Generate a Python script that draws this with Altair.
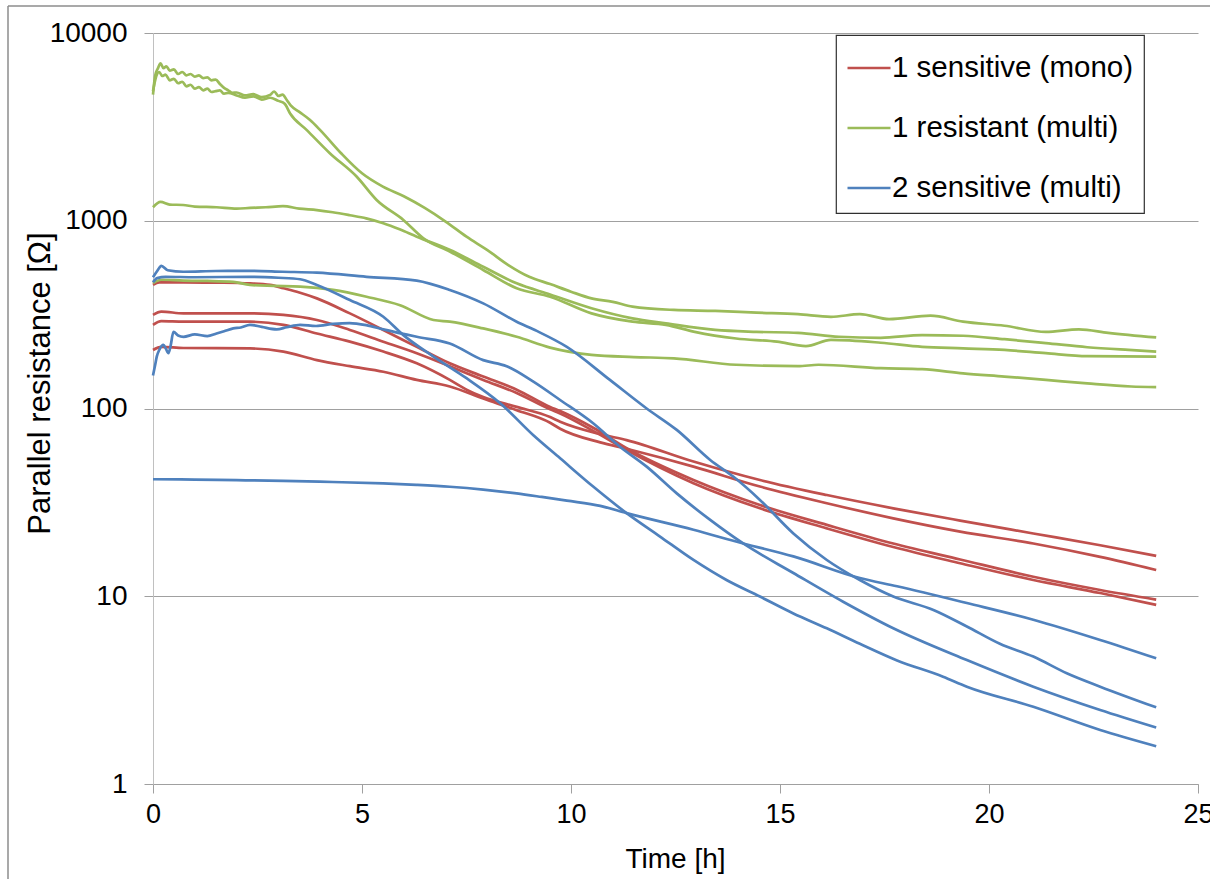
import altair as alt
import pandas as pd

SERIES = ["1 sensitive (mono)", "1 resistant (multi)", "2 sensitive (multi)"]
COLORS = ["#C0504D", "#9BBB59", "#4F81BD"]

# ---- 1 sensitive (mono): red curves ----
T_R1 = [0, 0.15, 0.73, 1.5, 2.32, 2.8, 3.12, 3.5, 3.92, 4.71, 5.51, 6.31, 7.1, 7.9, 8.7, 9.5, 9.74, 10.53, 11.33, 12.93, 14.52, 16.12, 17.71, 19.31, 21.06, 22.66, 24.0]
V_R1 = [455, 470, 470, 468, 464, 455, 437, 415, 386, 321, 262, 213, 174, 148, 126, 102, 97, 79, 61.4, 41.6, 30.6, 24.0, 19.1, 15.7, 12.7, 10.8, 9.6]
T_R2 = [0, 0.2, 0.73, 2.32, 3.12, 3.92, 4.71, 5.51, 6.31, 7.1, 7.9, 8.7, 9.5, 9.74, 10.53, 11.33, 12.93, 14.52, 16.12, 17.71, 19.31, 21.06, 22.66, 24.0]
V_R2 = [315, 328, 321, 321, 315, 296, 262, 227, 197, 168, 142, 121, 99, 94, 76, 60.1, 40.0, 29.4, 23.0, 18.3, 15.0, 12.2, 10.4, 9.0]
T_R3 = [0, 0.2, 0.73, 2.32, 3.12, 3.92, 4.71, 5.51, 6.31, 7.1, 7.5, 7.9, 8.7, 9.5, 9.74, 10.7, 11.33, 12.93, 14.52, 16.12, 17.71, 19.31, 21.06, 22.66, 24.0]
V_R3 = [279, 292, 290, 290, 279, 251, 227, 201, 174, 142, 126, 115, 102, 90, 85, 73, 67.9, 52.2, 41.6, 34.6, 29.4, 25.3, 21.6, 18.7, 16.4]
T_R4 = [0, 0.2, 0.73, 2.32, 3.12, 3.92, 4.71, 5.51, 6.31, 7.1, 7.9, 8.7, 9.5, 9.74, 10.7, 11.33, 12.93, 14.52, 16.12, 17.71, 19.31, 21.06, 22.66, 24.0]
V_R4 = [205, 213, 210, 209, 201, 181, 168, 157, 142, 131, 113, 98, 84, 78, 66, 61, 49, 38.4, 31.3, 26.0, 22.1, 19.1, 16.2, 13.8]

# ---- 1 resistant (multi): green curves ----
T_G1 = [0, 0.05, 0.12, 0.18, 0.25, 0.32, 0.4, 0.5, 0.6, 0.7, 0.8, 0.9, 1.0, 1.1, 1.2, 1.3, 1.4, 1.5, 1.6, 1.7, 1.8, 1.9, 2.0, 2.2, 2.4, 2.6, 2.8, 2.9, 3.0, 3.1, 3.2, 3.3, 3.5, 3.75, 4.0, 4.5, 5.0, 5.5, 6.0, 6.5, 7.0, 7.5, 8.0, 8.5, 9.0, 9.5, 10.0, 10.49, 11.0, 11.47, 12.46, 13.45, 14.44, 15.43, 16.22, 16.91, 17.61, 18.6, 19.38, 20.37, 21.36, 22.15, 22.85, 24.0]
V_G1 = [4700, 5900, 6500, 6900, 6500, 6650, 6300, 6400, 6050, 6200, 5950, 6050, 5850, 5950, 5750, 5800, 5600, 5650, 5350, 5100, 4950, 4800, 4820, 4650, 4720, 4550, 4680, 4880, 4620, 4700, 4400, 4100, 3800, 3450, 3040, 2290, 1790, 1520, 1350, 1170, 990, 822, 698, 581, 503, 460, 419, 386, 370, 349, 335, 331, 324, 318, 308, 318, 299, 312, 290, 276, 256, 264, 253, 239]
T_G2 = [0, 0.06, 0.15, 0.22, 0.3, 0.4, 0.5, 0.6, 0.7, 0.8, 0.9, 1.0, 1.1, 1.2, 1.3, 1.4, 1.5, 1.6, 1.7, 1.8, 2.0, 2.2, 2.4, 2.6, 2.8, 3.0, 3.15, 3.28, 3.68, 4.23, 4.87, 5.35, 5.99, 6.47, 7.11, 7.9, 8.7, 9.5, 10.49, 11.47, 12.27, 12.96, 13.95, 14.93, 15.62, 16.22, 17.41, 18.4, 19.38, 20.37, 21.36, 22.35, 24.0]
V_G2 = [4900, 5700, 6200, 5900, 6000, 5600, 5700, 5400, 5500, 5200, 5300, 5050, 5150, 4950, 5050, 4850, 4900, 4950, 4750, 4800, 4650, 4520, 4600, 4420, 4520, 4350, 4200, 3730, 3040, 2290, 1720, 1290, 1010, 806, 684, 547, 437, 394, 321, 290, 279, 256, 236, 227, 215, 232, 224, 213, 209, 205, 197, 190, 189]
T_G3 = [0, 0.18, 0.4, 0.72, 1.0, 1.52, 2.0, 2.32, 2.7, 3.11, 3.5, 3.92, 4.3, 4.71, 5.1, 5.51, 5.9, 6.31, 7.11, 7.9, 8.7, 9.5, 10.49, 11.47, 12.27, 13.45, 14.44, 15.43, 16.41, 17.41, 18.4, 19.38, 20.37, 21.36, 22.35, 23.34, 24.0]
V_G3 = [1180, 1260, 1220, 1213, 1190, 1180, 1160, 1170, 1180, 1195, 1160, 1140, 1110, 1070, 1030, 970, 900, 822, 698, 569, 464, 405, 342, 302, 284, 262, 256, 253, 241, 238, 246, 244, 234, 223, 212, 205, 201]
T_G4 = [0, 0.2, 0.73, 1.3, 1.92, 2.32, 2.9, 3.52, 4.31, 5.11, 5.91, 6.71, 7.1, 7.9, 8.7, 9.5, 10.49, 11.5, 12.46, 13.95, 15.43, 15.92, 17.41, 18.4, 19.38, 20.37, 21.36, 22.35, 23.4, 24.0]
V_G4 = [465, 485, 480, 478, 473, 455, 450, 446, 428, 394, 355, 296, 290, 267, 241, 211, 193, 188, 185, 171, 168, 171, 164, 162, 154, 148, 142, 136, 131, 130]

# ---- 2 sensitive (multi): blue curves ----
T_B1 = [0, 0.1, 0.2, 0.35, 0.73, 1.5, 2.32, 3.1, 3.92, 5.11, 6.31, 7.1, 7.9, 8.7, 9.18, 9.9, 10.93, 11.81, 12.53, 13.33, 13.88, 14.52, 15.32, 16.12, 16.91, 17.71, 18.67, 19.47, 20.26, 21.06, 21.86, 22.66, 24.0]
V_B1 = [500, 540, 575, 545, 535, 540, 541, 535, 529, 503, 480, 428, 363, 290, 259, 213, 142, 100, 76.9, 53.2, 43.4, 32.6, 21.6, 15.6, 12.2, 9.96, 8.45, 6.9, 5.58, 4.77, 3.89, 3.3, 2.56]
T_B2 = [0, 0.1, 0.3, 1.0, 2.32, 3.0, 3.52, 3.92, 4.71, 5.51, 5.99, 6.71, 7.5, 8.3, 9.1, 9.74, 10.53, 11.33, 12.13, 12.93, 13.72, 14.52, 15.32, 16.12, 16.91, 17.8, 18.9, 19.47, 21.06, 22.66, 24.0]
V_B2 = [470, 495, 503, 500, 503, 497, 488, 455, 378, 308, 246, 189, 145, 107, 72, 54.3, 38.4, 27.7, 20.8, 15.6, 12.2, 9.96, 8.1, 6.75, 5.58, 4.55, 3.73, 3.3, 2.58, 1.94, 1.59]
T_B3 = [0, 0.05, 0.09, 0.15, 0.25, 0.3, 0.37, 0.42, 0.49, 0.6, 0.73, 1.0, 1.3, 1.52, 1.7, 1.92, 2.1, 2.32, 2.6, 2.96, 3.2, 3.52, 3.9, 4.31, 4.7, 5.1, 5.51, 6.31, 7.1, 7.9, 8.46, 9.1, 9.74, 10.53, 11.17, 11.81, 12.53, 13.33, 14.12, 15.32, 16.51, 17.71, 19.47, 21.06, 22.66, 24.0]
V_B3 = [150, 170, 189, 205, 218, 210, 197, 215, 256, 245, 241, 248, 243, 251, 258, 267, 270, 279, 272, 264, 271, 279, 275, 282, 285, 278, 264, 241, 222, 181, 168, 139, 111, 83.4, 62.6, 49, 35.3, 25.5, 19.1, 13.3, 9.35, 6.75, 4.57, 3.3, 2.48, 2.0]
T_B4 = [0, 1.0, 2.0, 3.12, 4.3, 5.51, 6.3, 7.1, 7.9, 8.7, 9.3, 9.9, 10.7, 11.33, 12.93, 14.12, 15.32, 16.91, 17.8, 19.47, 21.06, 22.66, 24.0]
V_B4 = [42.0, 41.8, 41.5, 41.2, 40.6, 39.9, 39.2, 38.3, 37.0, 35.3, 33.8, 32.3, 30.3, 27.7, 22.6, 19.1, 16.3, 12.5, 11.3, 9.2, 7.5, 5.85, 4.67]

X_TICKS = [0, 5, 10, 15, 20, 25]
Y_TICKS = [1, 10, 100, 1000, 10000]

CURVES = [
    (SERIES[0], "R1", T_R1, V_R1), (SERIES[0], "R2", T_R2, V_R2),
    (SERIES[0], "R3", T_R3, V_R3), (SERIES[0], "R4", T_R4, V_R4),
    (SERIES[1], "G1", T_G1, V_G1), (SERIES[1], "G2", T_G2, V_G2),
    (SERIES[1], "G3", T_G3, V_G3), (SERIES[1], "G4", T_G4, V_G4),
    (SERIES[2], "B1", T_B1, V_B1), (SERIES[2], "B2", T_B2, V_B2),
    (SERIES[2], "B3", T_B3, V_B3), (SERIES[2], "B4", T_B4, V_B4),
]

rows = []
for s, cid, ts, vs in CURVES:
    for t, v in zip(ts, vs):
        rows.append({"series": s, "curve": cid, "t": t, "r": v})
df = pd.DataFrame(rows)

FONT = "Liberation Sans"
GRID = "#a0a0a0"

x_enc = alt.X("t:Q", scale=alt.Scale(domain=[0, 25], nice=False, zero=False),
              axis=alt.Axis(values=X_TICKS, grid=False, domainColor=GRID, tickColor=GRID,
                            tickSize=9, labelFontSize=27, labelFont=FONT, labelColor="black",
                            labelPadding=8, labelFlush=False, title="Time [h]",
                            titleFont=FONT, titleFontSize=28, titleFontWeight="normal",
                            titleColor="black", titleX=522, titleY=75, titleBaseline="middle"))
y_enc = alt.Y("r:Q", scale=alt.Scale(type="log", domain=[1, 10000], nice=False),
              axis=alt.Axis(values=Y_TICKS, format="d", grid=True, gridColor=GRID,
                            domainColor="#c0c0c0", tickColor=GRID, tickSize=9,
                            labelFontSize=28, labelFont=FONT, labelColor="black",
                            labelPadding=17, title="Parallel resistance [Ω]",
                            titleFont=FONT, titleFontSize=31, titleFontWeight="normal",
                            titleColor="black", titleX=-113, titleY=350,
                            titleBaseline="middle", titleAlign="center", titleAngle=270))
color_enc = alt.Color("series:N", scale=alt.Scale(domain=SERIES, range=COLORS),
                      legend=alt.Legend(orient="none", legendX=683, legendY=2, title=None,
                                        symbolType="stroke", symbolSize=1849,
                                        symbolStrokeWidth=2.7, labelFontSize=29.5,
                                        labelFont=FONT, labelColor="black", labelLimit=0,
                                        labelOffset=0, rowPadding=22, padding=10,
                                        strokeColor="#303030", fillColor="white"))

base = alt.Chart(df).mark_line(strokeWidth=2.7, interpolate="monotone").encode(
    x=x_enc, y=y_enc, color=color_enc, detail="curve:N")

layers = [base.transform_filter(alt.datum.series == s) for s in SERIES]

frame = alt.Chart(pd.DataFrame({"k": [0]}))
left_border = frame.mark_rule(color="#8c8c8c", strokeWidth=1.5).encode(
    x=alt.value(-145), y=alt.value(-27), y2=alt.value(900))
top_border = frame.mark_rule(color="#8c8c8c", strokeWidth=1.5).encode(
    y=alt.value(-27), x=alt.value(-145), x2=alt.value(1100))

chart = alt.layer(*layers, left_border, top_border).properties(
    width=1045, height=751,
    autosize=alt.AutoSizeParams(type="none"),
    padding={"left": 153, "top": 33, "right": 12, "bottom": 95},
    background="white",
).configure_view(stroke=None).configure_legend(strokeWidth=1.2)

chart.save("out.html", embed_options={"renderer": "svg", "actions": False})
